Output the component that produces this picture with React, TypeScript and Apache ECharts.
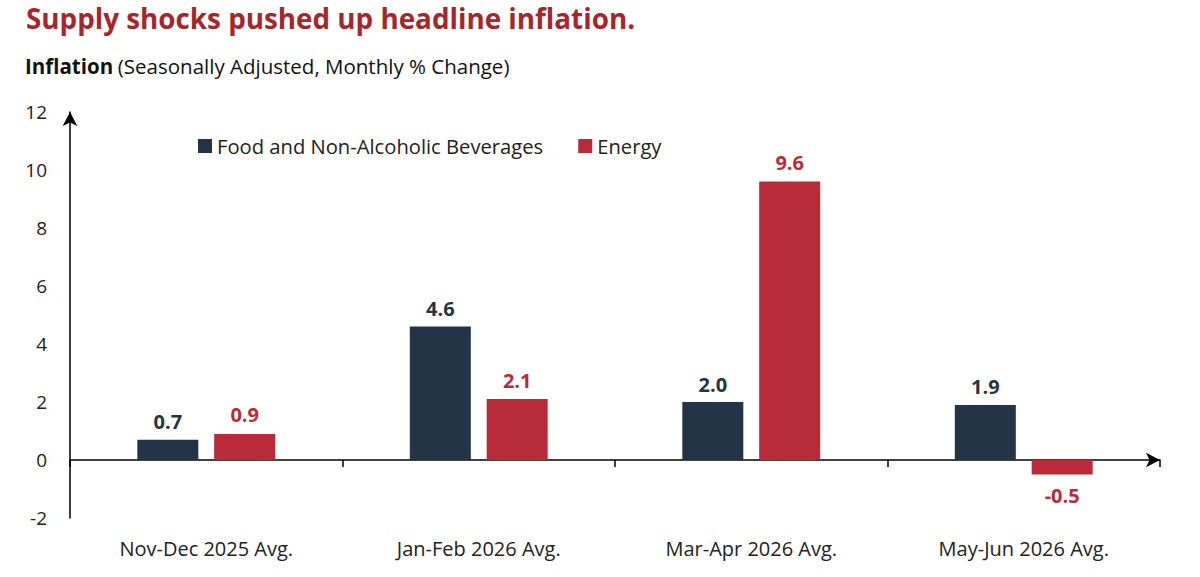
import React, { useEffect, useRef } from "react";
import * as echarts from "echarts";

const categories = ["Nov-Dec 2025 Avg.", "Jan-Feb 2026 Avg.", "Mar-Apr 2026 Avg.", "May-Jun 2026 Avg."];
const foodValues = [0.7, 4.6, 2.0, 1.9];
const energyValues = [0.9, 2.1, 9.6, -0.5];
const seriesNames = ["Food and Non-Alcoholic Beverages", "Energy"];

const NAVY = "#243447";
const RED = "#B92B38";
const FONT = "'Open Sans', sans-serif";

export default function App() {
  const ref = useRef<HTMLDivElement>(null);
  useEffect(() => {
    if (!ref.current) return;
    const chart = echarts.init(ref.current, null, { renderer: "svg" });
    const mkData = (vals: number[]) =>
      vals.map((v) => ({ value: v, label: { position: v < 0 ? "bottom" : "top", distance: v < 0 ? 11 : undefined } }));
    chart.setOption({
      animation: false,
      textStyle: { fontFamily: FONT },
      title: [
        {
          text: "Supply shocks pushed up headline inflation.",
          left: 26,
          top: 3,
          padding: 0,
          textStyle: { fontFamily: FONT, fontSize: 27.8, fontWeight: "bold", color: "#A6272B", lineHeight: 30 },
        },
        {
          text: "{b|Inflation} {n|(Seasonally Adjusted, Monthly % Change)}",
          left: 20,
          top: 50,
          textStyle: {
            fontWeight: "normal",
            rich: {
              b: { fontFamily: FONT, fontSize: 20.5, fontWeight: "bold", color: "#111" },
              n: { fontFamily: FONT, fontSize: 20.5, fontWeight: "normal", color: "#111" },
            },
          },
        },
      ],
      legend: {
        left: 193,
        top: 131,
        itemWidth: 14,
        itemHeight: 14,
        itemGap: 35,
        icon: "rect",
        textStyle: { fontFamily: FONT, fontSize: 20.2, color: "#222" },
        data: seriesNames,
      },
      grid: { left: 70, right: 40, top: 112, bottom: 59, containLabel: false },
      xAxis: [
        {
          type: "category",
          data: categories,
          axisLine: {
            onZero: true,
            lineStyle: { color: "#000", width: 1.5 },
            symbol: ["none", "arrow"],
            symbolSize: [11, 14],
          },
          axisTick: { show: true, length: 7, lineStyle: { color: "#000", width: 1.5 } },
          axisLabel: { show: false },
        },
        {
          type: "category",
          data: categories,
          position: "bottom",
          axisLine: { show: false, onZero: false },
          axisTick: { show: false },
          axisLabel: { show: true, fontFamily: FONT, fontSize: 20, color: "#222", margin: 20 },
        },
      ],
      yAxis: {
        type: "value",
        min: -2,
        max: 12,
        interval: 2,
        axisLine: {
          show: true,
          lineStyle: { color: "#000", width: 1.5 },
          symbol: ["none", "arrow"],
          symbolSize: [11, 14],
        },
        axisTick: { show: false },
        splitLine: { show: false },
        axisLabel: { fontFamily: FONT, fontSize: 19, color: "#222", margin: 23 },
      },
      series: [
        {
          name: seriesNames[0],
          type: "bar",
          xAxisIndex: 0,
          data: mkData(foodValues),
          itemStyle: { color: NAVY },
          barWidth: 61,
          barGap: "26%",
          label: {
            show: true,
            fontFamily: FONT,
            fontSize: 20,
            fontWeight: "bold",
            color: NAVY,
            distance: 8,
            formatter: (p: any) => Number(p.value).toFixed(1),
          },
        },
        {
          name: seriesNames[1],
          type: "bar",
          xAxisIndex: 0,
          data: mkData(energyValues),
          itemStyle: { color: RED },
          barWidth: 61,
          barGap: "26%",
          label: {
            show: true,
            fontFamily: FONT,
            fontSize: 20,
            fontWeight: "bold",
            color: RED,
            distance: 9,
            formatter: (p: any) => Number(p.value).toFixed(1),
          },
        },
      ],
    });
    return () => chart.dispose();
  }, []);
  return <div ref={ref} style={{ width: 1200, height: 577, position: "absolute", left: 0, top: 0 }} />;
}
